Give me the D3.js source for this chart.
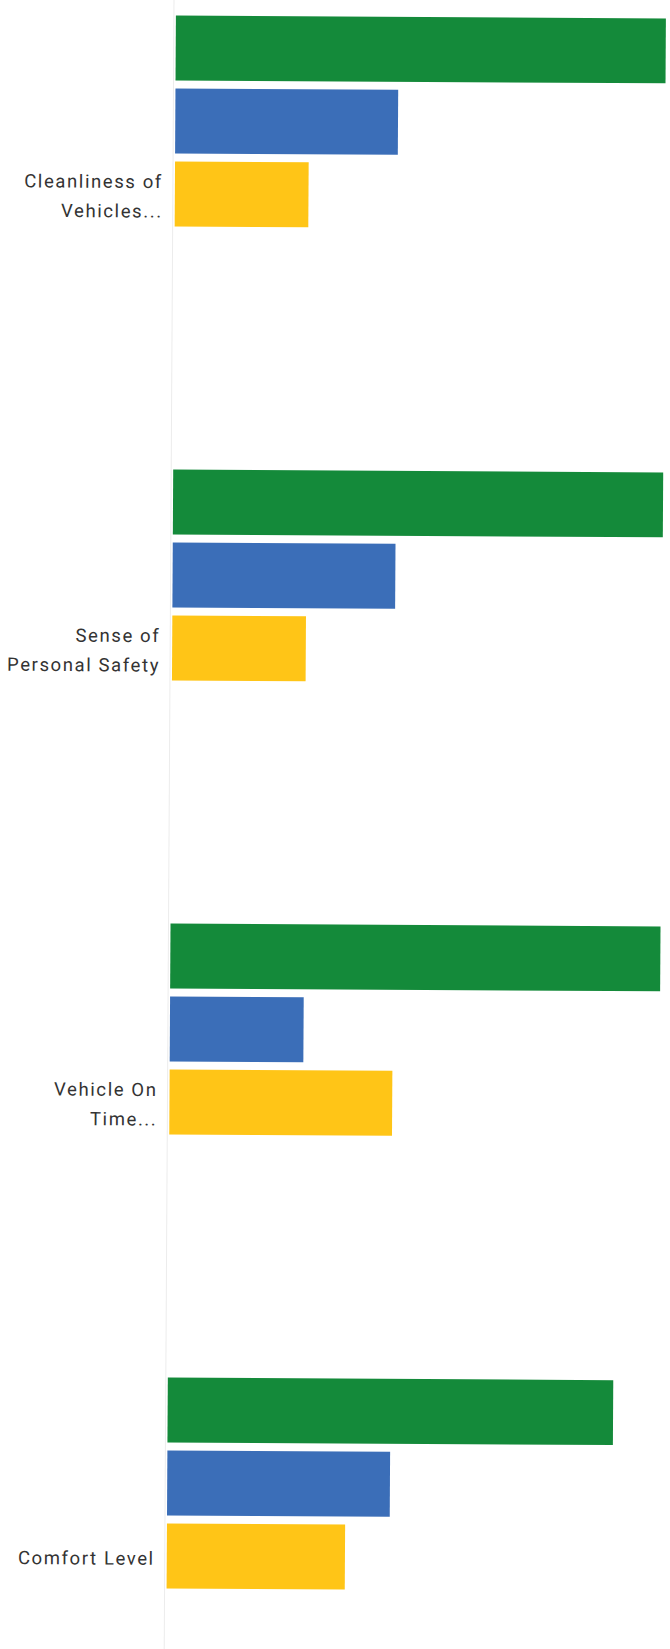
<!DOCTYPE html>
<html>
<head>
<meta charset="utf-8">
<script src="https://cdn.jsdelivr.net/npm/d3@7"></script>
<style>
  html, body { margin: 0; padding: 0; background: #ffffff; }
  svg { display: block; }
</style>
</head>
<body>
<div id="chart"></div>
<script>
// ---- data ----
const categories = ["Cleanliness of Vehicles...", "Sense of Personal Safety", "Vehicle On Time...", "Comfort Level"];
const categoryLines = [["Cleanliness of", "Vehicles..."], ["Sense of", "Personal Safety"], ["Vehicle On", "Time..."], ["Comfort Level"]];
const seriesNames = ["Series 1", "Series 2", "Series 3"];
const series1 = [11, 11, 11, 10];
const series2 = [5, 5, 3, 5];
const series3 = [3, 3, 5, 4];
const seriesColors = ["#148a3a", "#3b6eb8", "#ffc517"];

// ---- layout ----
const W = 670, H = 1649;
const x0 = 176;
const svg = d3.select("#chart").append("svg").attr("width", W).attr("height", H);

const g = svg.append("g").attr("transform", `rotate(0.34, ${x0}, 0)`);

const y0 = d3.scaleBand().domain(categories).range([-33, 1783]).paddingInner(0.2137).paddingOuter(0.1068);
const y1 = d3.scaleBand().domain(d3.range(5)).range([0, y0.bandwidth()]).paddingInner(0.11).paddingOuter(0);
const x = d3.scaleLinear().domain([0, 11]).range([x0, 666]);

const allSeries = [series1, series2, series3];
const rows = [];
categories.forEach((c, i) => {
  allSeries.forEach((s, j) => rows.push({cat: c, si: j, v: s[i]}));
});

// axis line
g.append("line")
  .attr("x1", x0 - 2).attr("x2", x0 - 2)
  .attr("y1", -20).attr("y2", H + 20)
  .attr("stroke", "#ececec").attr("stroke-width", 1);

g.selectAll("rect.bar").data(rows).enter().append("rect")
  .attr("class", "bar")
  .attr("x", x(0))
  .attr("y", d => y0(d.cat) + y1(d.si))
  .attr("width", d => x(d.v) - x(0))
  .attr("height", y1.bandwidth())
  .attr("fill", d => seriesColors[d.si]);

// labels
const lh = 29.5;
const labels = g.selectAll("text.lbl").data(categories).enter().append("text")
  .attr("class", "lbl")
  .attr("text-anchor", "end")
  .attr("font-family", "Roboto, 'Open Sans', sans-serif")
  .attr("font-size", 18.5)
  .attr("letter-spacing", "1.6px")
  .attr("fill", "#333333");

labels.each(function(c, i) {
  const lines = categoryLines[i];
  const cy = y0(c) + y0.bandwidth() / 2 + 2.5;
  const t = d3.select(this);
  lines.forEach((ln, k) => {
    t.append("tspan")
      .attr("x", x0 - 12)
      .attr("y", cy - (lines.length - 1) * lh / 2 + k * lh)
      .attr("dy", "0.35em")
      .text(ln);
  });
});
</script>
</body>
</html>
